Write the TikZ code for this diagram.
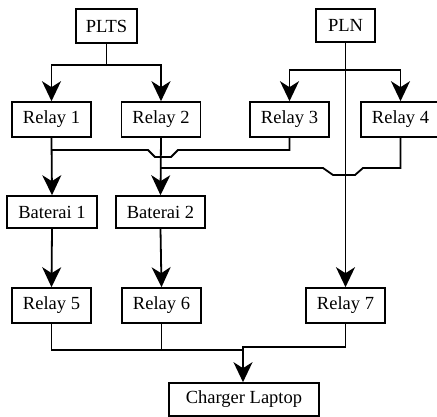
\documentclass[tikz,border=0pt]{standalone}
\usepackage{fontspec}
\setmainfont{Liberation Serif}
\usetikzlibrary{arrows.meta}
\begin{document}
\begin{tikzpicture}[x=1pt,y=-1pt,
  box/.style={draw,line width=1.6pt,inner sep=0pt,font=\fontsize{18.5}{20}\selectfont},
  wire/.style={line width=1.8pt},
  arr/.style={wire,-{Stealth[length=20pt,width=19pt,inset=6pt]}}]
\useasboundingbox (0,0) rectangle (437,417);
\begin{scope}
\clip (0,0) rectangle (437,417);
\node[box,minimum width=61pt,minimum height=34pt] (plts) at (106.5,26) {PLTS};
\node[box,minimum width=59pt,minimum height=33pt] (pln) at (345.5,25.5) {PLN};
\node[box,minimum width=79pt,minimum height=35pt] (r1) at (51.5,119.5) {Relay 1};
\node[box,minimum width=79pt,minimum height=35pt] (r2) at (161,119.5) {Relay 2};
\node[box,minimum width=79pt,minimum height=35pt] (r3) at (289.5,119.5) {Relay 3};
\node[box,minimum width=79pt,minimum height=35pt] (r4) at (400.5,119.5) {Relay 4};
\node[box,minimum width=90pt,minimum height=32pt] (b1) at (52,212) {Baterai 1};
\node[box,minimum width=89pt,minimum height=32pt] (b2) at (160.5,212) {Baterai 2};
\node[box,minimum width=79pt,minimum height=35pt] (r5) at (51.5,305.5) {Relay 5};
\node[box,minimum width=79pt,minimum height=35pt] (r6) at (161.5,305.5) {Relay 6};
\node[box,minimum width=79pt,minimum height=35pt] (r7) at (345.5,305.5) {Relay 7};
\node[box,minimum width=150pt,minimum height=33pt] (cl) at (244,399.5) {Charger Laptop};
\end{scope}
% PLTS split
\coordinate (s1) at (106.5,65);
\draw[wire] (plts.south) -- (s1);
\draw[arr] (s1) -| (r1.north);
\draw[arr] (s1) -| (r2.north);
% PLN split
\coordinate (s2) at (345,70);
\draw[arr] (s2) -| (r3.north);
\draw[arr] (s2) -| (r4.north);
\draw[arr] (pln.south -| r7.north) -- (r7.north);
% relay 3 / relay 4 joins with dips
\coordinate (j1) at (51.5,150);
\coordinate (j2) at (161,168);
\draw[wire] (r3.south) |- (178,150) -- (171,157) -- (155,157) -- (148,150) -- (j1);
\draw[wire] (r4.south) |- (363,168) -- (355,175) -- (333,175) -- (323,168) -- (j2);
\draw[arr] (r1.south) -- (b1.north);
\draw[arr] (r2.south) -- (b2.north);
\draw[arr] (b1.south) -- (r5.north);
\draw[arr] (b2.south) -- (r6.north);
% bottom collection
\coordinate (m) at (243,350);
\coordinate (m7) at (243,347);
\draw[wire] (r5.south) |- (m);
\draw[wire] (r6.south) -- (r6.south |- m);
\draw[wire] (r7.south) |- (m7) -- (m);
\draw[arr] (m7) -- (m7 |- cl.north);
\end{tikzpicture}
\end{document}
